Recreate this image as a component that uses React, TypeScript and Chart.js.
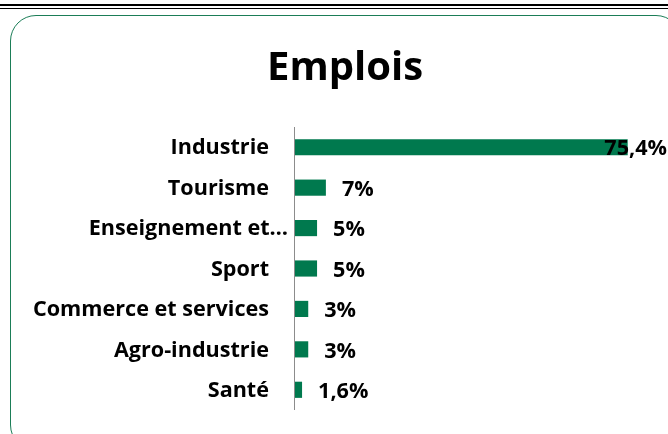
import React, { useEffect, useRef } from "react";
import { Chart, registerables } from "chart.js";

Chart.register(...registerables);

const categories = [
  "Industrie",
  "Tourisme",
  "Enseignement et…",
  "Sport",
  "Commerce et services",
  "Agro-industrie",
  "Santé",
];
const values = [75.4, 7, 5, 5, 3, 3, 1.6];
const valueLabels = ["75,4%", "7%", "5%", "5%", "3%", "3%", "1,6%"];
const chartTitle = "Emplois";

const FONT = "'Open Sans', sans-serif";
const GREEN = "#00794E";

export default function App() {
  const ref = useRef<HTMLCanvasElement | null>(null);

  useEffect(() => {
    if (!ref.current) return;
    const decor = {
      id: "decor",
      afterDraw(chart: any) {
        const ctx = chart.ctx;
        const area = chart.chartArea;
        const yScale = chart.scales.y;
        ctx.save();
        // title
        ctx.fillStyle = "#000";
        ctx.font = `bold 40px ${FONT}`;
        ctx.textAlign = "center";
        ctx.textBaseline = "alphabetic";
        ctx.fillText(chartTitle, 345, 80);
        // axis line
        ctx.strokeStyle = "#8c8c8c";
        ctx.lineWidth = 1;
        ctx.beginPath();
        ctx.moveTo(Math.round(area.left) - 0.5, area.top);
        ctx.lineTo(Math.round(area.left) - 0.5, area.bottom);
        ctx.stroke();
        // category labels
        ctx.font = `bold 21.6px ${FONT}`;
        ctx.textAlign = "right";
        ctx.textBaseline = "middle";
        categories.forEach((c, i) => {
          const y = yScale.getPixelForValue(i);
          const off = c.endsWith("…") ? 7 : 26;
          ctx.fillText(c, area.left - off, y + 1);
        });
        // value labels
        ctx.textAlign = "left";
        const meta = chart.getDatasetMeta(0);
        meta.data.forEach((bar: any, i: number) => {
          const t = valueLabels[i];
          const w = ctx.measureText(t).width;
          const x = Math.min(bar.x + 16, chart.width - 1 - w);
          ctx.fillText(t, x, bar.y + 2);
        });
        ctx.restore();
      },
    };
    const chart = new Chart(ref.current, {
      type: "bar",
      data: {
        labels: categories,
        datasets: [
          {
            data: values,
            backgroundColor: GREEN,
            borderWidth: 0,
            barPercentage: 0.4,
            categoryPercentage: 1,
          },
        ],
      },
      options: {
        indexAxis: "y",
        animation: false,
        responsive: false,
        maintainAspectRatio: false,
        layout: { padding: { left: 295, right: 20, top: 127, bottom: 24 } },
        plugins: {
          legend: { display: false },
          title: { display: false },
          tooltip: { enabled: false },
        },
        scales: {
          x: { display: false, min: 0, max: 80 },
          y: { display: false },
        },
      },
      plugins: [decor],
    });
    return () => chart.destroy();
  }, []);

  return (
    <div
      style={{
        position: "fixed",
        left: 0,
        top: 0,
        width: 668,
        height: 434,
        overflow: "hidden",
        background: "#fff",
      }}
    >
      <div style={{ position: "absolute", left: 0, top: 4, width: 668, height: 2, background: "#000" }} />
      <div style={{ position: "absolute", left: 0, top: 8, width: 668, height: 1.4, background: "#000" }} />
      <div
        style={{
          position: "absolute",
          left: 9.5,
          top: 14.5,
          width: 672,
          height: 436,
          border: "1.5px solid #1B7D57",
          borderRadius: 26,
          boxSizing: "border-box",
        }}
      />
      <canvas
        ref={ref}
        width={668}
        height={434}
        style={{ position: "absolute", left: 0, top: 0, width: 668, height: 434 }}
      />
    </div>
  );
}
